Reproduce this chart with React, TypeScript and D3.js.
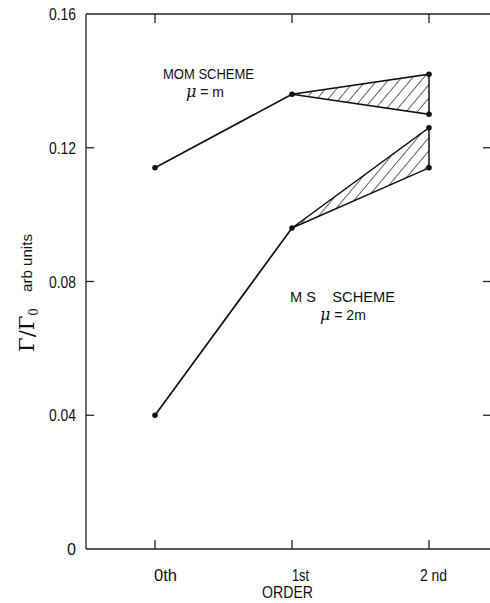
import * as d3 from "d3";

const orders = ["0th", "1st", "2nd"];
const orderLabels = ["0th", "1st", "2 nd"];
const yTicks = [0, 0.04, 0.08, 0.12, 0.16];
const yTickLabels = ["0", "0.04", "0.08", "0.12", "0.16"];

// MOM scheme, mu = m
const momLine = [0.114, 0.136];
const momBand2nd = [0.142, 0.13];
// MS scheme, mu = 2m
const msLine = [0.04, 0.096];
const msBand2nd = [0.126, 0.114];

const W = 490;
const H = 603;

export default function App() {
  const x = d3.scalePoint<string>().domain(orders).range([155, 429]);
  const y = d3.scaleLinear().domain([0, 0.16]).range([549, 14]);
  const left = 86;
  const right = 491;
  const font = "'Liberation Sans', Arial, sans-serif";

  const line = d3
    .line<[string, number]>()
    .x((d) => x(d[0])!)
    .y((d) => y(d[1]));

  const tri = (base: number, hi: number, lo: number): [string, number][] => [
    ["1st", base],
    ["2nd", hi],
    ["2nd", lo],
  ];

  const momPts: [string, number][] = [
    ["0th", momLine[0]],
    ["1st", momLine[1]],
    ["2nd", momBand2nd[0]],
    ["2nd", momBand2nd[1]],
  ];
  const msPts: [string, number][] = [
    ["0th", msLine[0]],
    ["1st", msLine[1]],
    ["2nd", msBand2nd[0]],
    ["2nd", msBand2nd[1]],
  ];

  // label widths / offsets as hand-lettered in the scan
  const xLabelW = [23, 17, 27];
  const xLabelDx = [-1, 0, -9];

  return (
    <svg
      width={W}
      height={H}
      style={{ position: "absolute", left: 0, top: 0, background: "#fff" }}
    >
      <defs>
        <pattern
          id="hatch"
          patternUnits="userSpaceOnUse"
          width={8.5}
          height={8.5}
          patternTransform="rotate(40)"
        >
          <line x1={0} y1={0} x2={0} y2={8.5} stroke="#111" strokeWidth={1.3} />
        </pattern>
      </defs>

      {/* frame */}
      <g stroke="#222" strokeWidth={1.3} fill="none">
        <line x1={left} y1={y(0.16)} x2={right} y2={y(0.16)} />
        <line x1={left} y1={y(0)} x2={right} y2={y(0)} />
        <line x1={left} y1={y(0.16)} x2={left} y2={y(0)} />
        {yTicks.slice(1, 4).map((t) => (
          <g key={t}>
            <line x1={left} y1={y(t)} x2={left + 8} y2={y(t)} />
            <line x1={483} y1={y(t)} x2={right} y2={y(t)} />
          </g>
        ))}
        {orders.map((o) => (
          <g key={o}>
            <line x1={x(o)} y1={y(0)} x2={x(o)} y2={y(0) - 9} />
            <line x1={x(o)} y1={y(0.16)} x2={x(o)} y2={y(0.16) + 9} />
          </g>
        ))}
      </g>

      {/* tick labels */}
      <g fontFamily={font} fontSize={17} fill="#111" textAnchor="end">
        {yTicks.map((t, i) => (
          <text
            key={t}
            x={left - 10}
            y={y(t) + 6}
            textLength={yTickLabels[i].length > 1 ? 27 : 9}
            lengthAdjust="spacingAndGlyphs"
          >
            {yTickLabels[i]}
          </text>
        ))}
      </g>
      <g fontFamily={font} fontSize={16} fill="#111">
        {orders.map((o, i) => (
          <text
            key={o}
            x={x(o)! + xLabelDx[i]}
            y={581}
            textLength={xLabelW[i]}
            lengthAdjust="spacingAndGlyphs"
            xmlSpace="preserve"
          >
            {orderLabels[i]}
          </text>
        ))}
        <text x={262} y={598} fontSize={16} textLength={51} lengthAdjust="spacingAndGlyphs">
          ORDER
        </text>
      </g>

      {/* y label */}
      <g transform="translate(34,330) rotate(-90)" fill="#111">
        <text textAnchor="middle" fontFamily="'DejaVu Serif', serif" fontSize={21}>
          Γ/Γ<tspan fontSize={12} dy={4}>0</tspan>
        </text>
        <text x={67} y={-2} textAnchor="middle" fontFamily={font} fontSize={15} textLength={58} lengthAdjust="spacingAndGlyphs">
          arb units
        </text>
      </g>

      {/* hatched bands */}
      <path
        d={line(tri(momLine[1], momBand2nd[0], momBand2nd[1]))! + "Z"}
        fill="url(#hatch)"
        stroke="#111"
        strokeWidth={1.5}
      />
      <path
        d={line(tri(msLine[1], msBand2nd[0], msBand2nd[1]))! + "Z"}
        fill="url(#hatch)"
        stroke="#111"
        strokeWidth={1.5}
      />

      {/* lines */}
      <path d={line([["0th", momLine[0]], ["1st", momLine[1]]])!} fill="none" stroke="#111" strokeWidth={1.7} />
      <path d={line([["0th", msLine[0]], ["1st", msLine[1]]])!} fill="none" stroke="#111" strokeWidth={1.7} />

      {[...momPts, ...msPts].map((d, i) => (
        <circle key={i} cx={x(d[0])} cy={y(d[1])} r={2.8} fill="#111" />
      ))}

      {/* annotations */}
      <g fontFamily={font} fontSize={14} fill="#111">
        <text x={163} y={79} textLength={91} lengthAdjust="spacingAndGlyphs">MOM SCHEME</text>
        <text x={186} y={97}>
          <tspan fontFamily="'DejaVu Serif', serif" fontStyle="italic" fontSize={16}>μ</tspan> = m
        </text>
        <text x={290} y={302} textLength={105} lengthAdjust="spacingAndGlyphs" xmlSpace="preserve">
          M S    SCHEME
        </text>
        <text x={320} y={320}>
          <tspan fontFamily="'DejaVu Serif', serif" fontStyle="italic" fontSize={16}>μ</tspan> = 2m
        </text>
      </g>
    </svg>
  );
}
